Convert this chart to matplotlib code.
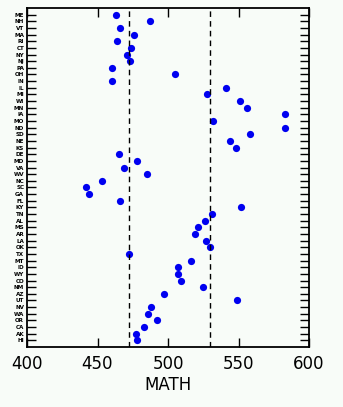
import matplotlib
matplotlib.use('Agg')
import matplotlib.pyplot as plt

# States, listed top to bottom as in the chart
states = ['ME', 'NH', 'VT', 'MA', 'RI', 'CT', 'NY', 'NJ', 'PA', 'OH',
          'IN', 'IL', 'MI', 'WI', 'MN', 'IA', 'MO', 'ND', 'SD', 'NE',
          'KS', 'DE', 'MD', 'VA', 'WV', 'NC', 'SC', 'GA', 'FL', 'KY',
          'TN', 'AL', 'MS', 'AR', 'LA', 'OK', 'TX', 'MT', 'ID', 'WY',
          'CO', 'NM', 'AZ', 'UT', 'NV', 'WA', 'OR', 'CA', 'AK', 'HI']

# Math scores
math = [463, 487, 466, 476, 464, 474, 471, 473, 460, 505,
        460, 541, 528, 551, 556, 583, 532, 583, 558, 544,
        548, 465, 478, 469, 485, 453, 442, 444, 466, 552,
        531, 526, 521, 519, 527, 530, 472, 516, 507, 507,
        509, 525, 497, 549, 488, 486, 492, 483, 477, 478]

# reference lines
cutoffs = [472, 530]

bg = '#f8fcf8'
fig = plt.figure(figsize=(3.43, 4.07), dpi=100, facecolor=bg)
ax = fig.add_axes([27/343, 1 - 347/407, 282/343, 339/407], facecolor=bg)

ypos = list(range(len(states), 0, -1))
ax.plot(math, ypos, 'o', color='#0000f0', markersize=5.2, markeredgewidth=0)

for c in cutoffs:
    ax.axvline(c, color='black', linestyle=(0, (4, 3)), linewidth=1)

ax.set_xlim(400, 600)
ax.set_ylim(0, len(states) + 1)
ax.set_xticks([400, 450, 500, 550, 600])
ax.set_yticks(ypos)
ax.set_yticklabels(states, fontsize=4.1, fontweight='bold')
ax.tick_params(axis='x', direction='in', top=True, length=6.5, width=1,
               labelsize=12, pad=6)
ax.tick_params(axis='y', direction='in', right=True, length=6.5, width=1,
               pad=2)
for s in ax.spines.values():
    s.set_linewidth(1.3)

ax.set_xlabel('MATH', fontsize=12, labelpad=2)

fig.savefig('out.png', dpi=100, facecolor=bg)
